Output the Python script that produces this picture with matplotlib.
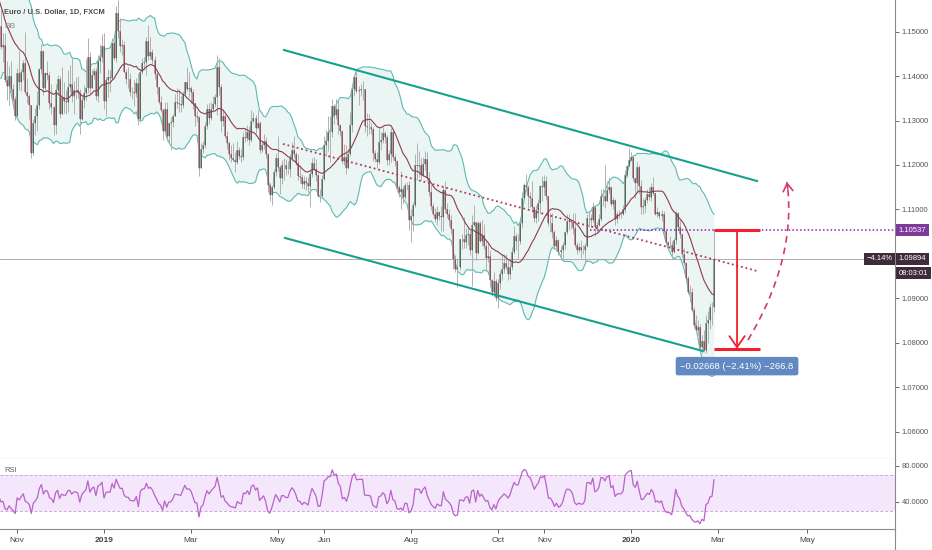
import numpy as np
import pandas as pd
import matplotlib
matplotlib.use('Agg')
import matplotlib.pyplot as plt
from matplotlib.transforms import blended_transform_factory
from matplotlib.lines import Line2D

plt.rcParams['font.family'] = ['Liberation Sans', 'DejaVu Sans']

# EUR/USD daily, FXCM. first 20 bars (from 2018-09-24) only warm up BB / RSI,
# the visible chart starts on 2018-10-22 (bar 0)
first_day = '2018-09-24'
n_pre = 20
bb_length = 20
rsi_length = 10

closes = [
    1.1748, 1.1768, 1.1738, 1.1641, 1.1604,
    1.1575, 1.1547, 1.1485, 1.1516, 1.1524,
    1.1490, 1.1489, 1.1527, 1.1595, 1.1561,
    1.1579, 1.1575, 1.1500, 1.1451, 1.1512,
    1.1466, 1.1470, 1.1392, 1.1377, 1.1400,
    1.1370, 1.1348, 1.1311, 1.1406, 1.1386,
    1.1408, 1.1430, 1.1365, 1.1355, 1.1335,
    1.1226, 1.1294, 1.1310, 1.1335, 1.1415,
    1.1456, 1.1372, 1.1406, 1.1402, 1.1339,
    1.1330, 1.1290, 1.1368, 1.1393, 1.1315,
    1.1352, 1.1343, 1.1342, 1.1375, 1.1381,
    1.1354, 1.1368, 1.1369, 1.1362, 1.1303,
    1.1346, 1.1361, 1.1374, 1.1442, 1.1372,
    1.1402, 1.1412, 1.1354, 1.1433, 1.1443,
    1.1467, 1.1344, 1.1392, 1.1397, 1.1395,
    1.1474, 1.1440, 1.1542, 1.1502, 1.1468,
    1.1470, 1.1410, 1.1393, 1.1393, 1.1365,
    1.1363, 1.1362, 1.1385, 1.1304, 1.1409,
    1.1429, 1.1431, 1.1479, 1.1446, 1.1455,
    1.1437, 1.1405, 1.1376, 1.1341, 1.1324,
    1.1276, 1.1326, 1.1265, 1.1295, 1.1297,
    1.1311, 1.1342, 1.1340, 1.1337, 1.1335,
    1.1359, 1.1387, 1.1370, 1.1372, 1.1364,
    1.1340, 1.1309, 1.1307, 1.1193, 1.1236,
    1.1246, 1.1287, 1.1325, 1.1305, 1.1325,
    1.1338, 1.1352, 1.1420, 1.1375, 1.1300,
    1.1310, 1.1265, 1.1250, 1.1225, 1.1216,
    1.1212, 1.1206, 1.1233, 1.1221, 1.1217,
    1.1264, 1.1260, 1.1274, 1.1257, 1.1298,
    1.1305, 1.1284, 1.1295, 1.1234, 1.1244,
    1.1254, 1.1225, 1.1155, 1.1132, 1.1151,
    1.1184, 1.1216, 1.1195, 1.1170, 1.1201,
    1.1200, 1.1190, 1.1190, 1.1215, 1.1233,
    1.1224, 1.1205, 1.1175, 1.1174, 1.1157,
    1.1164, 1.1160, 1.1152, 1.1180, 1.1205,
    1.1192, 1.1177, 1.1130, 1.1131, 1.1169,
    1.1245, 1.1255, 1.1274, 1.1274, 1.1333,
    1.1312, 1.1326, 1.1290, 1.1276, 1.1210,
    1.1217, 1.1193, 1.1224, 1.1290, 1.1370,
    1.1398, 1.1366, 1.1369, 1.1370, 1.1370,
    1.1288, 1.1285, 1.1285, 1.1281, 1.1226,
    1.1213, 1.1206, 1.1252, 1.1256, 1.1271,
    1.1262, 1.1212, 1.1224, 1.1274, 1.1219,
    1.1209, 1.1150, 1.1140, 1.1146, 1.1127,
    1.1156, 1.1154, 1.1076, 1.1085, 1.1109,
    1.1201, 1.1198, 1.1200, 1.1177, 1.1202,
    1.1214, 1.1171, 1.1139, 1.1108, 1.1090,
    1.1078, 1.1095, 1.1085, 1.1084, 1.1143,
    1.1101, 1.1090, 1.1077, 1.1056, 1.0988,
    1.0967, 1.0970, 1.1033, 1.1034, 1.1026,
    1.1043, 1.1045, 1.1010, 1.1066, 1.1073,
    1.1002, 1.1070, 1.1029, 1.1043, 1.1017,
    1.0991, 1.0995, 1.0941, 1.0914, 1.0940,
    1.0900, 1.0935, 1.0955, 1.0966, 1.0980,
    1.0971, 1.0956, 1.0971, 1.1005, 1.1041,
    1.1030, 1.1030, 1.1069, 1.1125, 1.1155,
    1.1150, 1.1130, 1.1125, 1.1105, 1.1080,
    1.1099, 1.1114, 1.1153, 1.1151, 1.1165,
    1.1130, 1.1069, 1.1069, 1.1050, 1.1019,
    1.1031, 1.1005, 1.1009, 1.1021, 1.1050,
    1.1075, 1.1075, 1.1071, 1.1058, 1.1020,
    1.1010, 1.1015, 1.1010, 1.1010, 1.1017,
    1.1080, 1.1082, 1.1077, 1.1105, 1.1060,
    1.1065, 1.1079, 1.1130, 1.1130, 1.1120,
    1.1144, 1.1151, 1.1113, 1.1122, 1.1079,
    1.1089, 1.1090, 1.1090, 1.1100, 1.1178,
    1.1198, 1.1212, 1.1217, 1.1170, 1.1160,
    1.1195, 1.1153, 1.1105, 1.1107, 1.1121,
    1.1134, 1.1128, 1.1150, 1.1136, 1.1090,
    1.1095, 1.1085, 1.1091, 1.1052, 1.1026,
    1.1021, 1.1020, 1.1005, 1.1032, 1.1093,
    1.1061, 1.1046, 1.1000, 1.0980, 1.0945,
    1.0914, 1.0915, 1.0875, 1.0841, 1.0830,
    1.0835, 1.0791, 1.0805, 1.0785, 1.0845,
    1.0851, 1.0880, 1.0882, 1.0989,
]

highs = [
    1.1815, 1.1781, 1.1795, 1.1738, 1.1654,
    1.1608, 1.1580, 1.1577, 1.1547, 1.1538,
    1.1521, 1.1502, 1.1538, 1.1605, 1.1620,
    1.1592, 1.1621, 1.1579, 1.1511, 1.1523,
    1.1550, 1.1497, 1.1497, 1.1434, 1.1422,
    1.1434, 1.1381, 1.1355, 1.1419, 1.1456,
    1.1415, 1.1436, 1.1500, 1.1395, 1.1359,
    1.1335, 1.1304, 1.1327, 1.1367, 1.1418,
    1.1472, 1.1458, 1.1409, 1.1433, 1.1408,
    1.1382, 1.1333, 1.1382, 1.1402, 1.1399,
    1.1420, 1.1387, 1.1369, 1.1413, 1.1424,
    1.1442, 1.1389, 1.1398, 1.1400, 1.1370,
    1.1355, 1.1380, 1.1439, 1.1485, 1.1455,
    1.1415, 1.1418, 1.1419, 1.1448, 1.1472,
    1.1495, 1.1497, 1.1398, 1.1415, 1.1413,
    1.1486, 1.1480, 1.1558, 1.1570, 1.1530,
    1.1483, 1.1478, 1.1416, 1.1420, 1.1406,
    1.1375, 1.1391, 1.1396, 1.1407, 1.1416,
    1.1440, 1.1442, 1.1487, 1.1514, 1.1488,
    1.1461, 1.1445, 1.1409, 1.1375, 1.1355,
    1.1327, 1.1342, 1.1341, 1.1292, 1.1307,
    1.1315, 1.1359, 1.1372, 1.1370, 1.1355,
    1.1366, 1.1385, 1.1420, 1.1408, 1.1378,
    1.1370, 1.1340, 1.1321, 1.1310, 1.1249,
    1.1254, 1.1296, 1.1338, 1.1340, 1.1342,
    1.1356, 1.1360, 1.1448, 1.1440, 1.1383,
    1.1325, 1.1314, 1.1277, 1.1255, 1.1245,
    1.1250, 1.1230, 1.1255, 1.1240, 1.1235,
    1.1274, 1.1284, 1.1289, 1.1288, 1.1324,
    1.1318, 1.1312, 1.1324, 1.1298, 1.1251,
    1.1270, 1.1263, 1.1227, 1.1160, 1.1155,
    1.1190, 1.1228, 1.1265, 1.1200, 1.1211,
    1.1215, 1.1213, 1.1210, 1.1225, 1.1251,
    1.1265, 1.1230, 1.1225, 1.1200, 1.1180,
    1.1175, 1.1172, 1.1174, 1.1188, 1.1215,
    1.1218, 1.1214, 1.1181, 1.1145, 1.1178,
    1.1265, 1.1279, 1.1309, 1.1309, 1.1348,
    1.1338, 1.1348, 1.1349, 1.1293, 1.1278,
    1.1247, 1.1244, 1.1239, 1.1318, 1.1377,
    1.1405, 1.1412, 1.1378, 1.1382, 1.1388,
    1.1370, 1.1316, 1.1315, 1.1295, 1.1285,
    1.1233, 1.1230, 1.1286, 1.1274, 1.1286,
    1.1276, 1.1268, 1.1233, 1.1283, 1.1281,
    1.1225, 1.1211, 1.1155, 1.1187, 1.1152,
    1.1159, 1.1162, 1.1163, 1.1100, 1.1117,
    1.1224, 1.1250, 1.1232, 1.1215, 1.1218,
    1.1231, 1.1230, 1.1185, 1.1155, 1.1114,
    1.1103, 1.1108, 1.1097, 1.1107, 1.1153,
    1.1164, 1.1114, 1.1100, 1.1087, 1.1059,
    1.0998, 1.0988, 1.1034, 1.1045, 1.1084,
    1.1058, 1.1064, 1.1055, 1.1087, 1.1109,
    1.1056, 1.1075, 1.1074, 1.1076, 1.1068,
    1.1030, 1.1025, 1.1008, 1.0943, 1.0960,
    1.0944, 1.0943, 1.0963, 1.0999, 1.0999,
    1.0999, 1.0989, 1.0992, 1.1016, 1.1062,
    1.1047, 1.1045, 1.1074, 1.1140, 1.1160,
    1.1179, 1.1156, 1.1140, 1.1163, 1.1107,
    1.1110, 1.1124, 1.1155, 1.1175, 1.1177,
    1.1176, 1.1128, 1.1092, 1.1093, 1.1055,
    1.1041, 1.1033, 1.1018, 1.1028, 1.1052,
    1.1090, 1.1089, 1.1079, 1.1092, 1.1093,
    1.1028, 1.1024, 1.1031, 1.1020, 1.1025,
    1.1089, 1.1097, 1.1089, 1.1117, 1.1111,
    1.1073, 1.1090, 1.1145, 1.1147, 1.1199,
    1.1163, 1.1174, 1.1151, 1.1129, 1.1124,
    1.1097, 1.1098, 1.1095, 1.1110, 1.1188,
    1.1200, 1.1239, 1.1229, 1.1220, 1.1169,
    1.1206, 1.1200, 1.1166, 1.1126, 1.1129,
    1.1146, 1.1150, 1.1159, 1.1172, 1.1138,
    1.1105, 1.1096, 1.1098, 1.1096, 1.1050,
    1.1029, 1.1040, 1.1029, 1.1036, 1.1096,
    1.1095, 1.1076, 1.1042, 1.1013, 1.0981,
    1.0951, 1.0930, 1.0923, 1.0882, 1.0863,
    1.0851, 1.0842, 1.0817, 1.0829, 1.0862,
    1.0872, 1.0889, 1.0891, 1.1054,
]

lows = [
    1.1733, 1.1723, 1.1718, 1.1628, 1.1586,
    1.1555, 1.1524, 1.1462, 1.1474, 1.1482,
    1.1460, 1.1433, 1.1475, 1.1525, 1.1560,
    1.1564, 1.1543, 1.1496, 1.1433, 1.1445,
    1.1460, 1.1431, 1.1387, 1.1345, 1.1335,
    1.1361, 1.1336, 1.1302, 1.1312, 1.1369,
    1.1366, 1.1392, 1.1360, 1.1340, 1.1304,
    1.1216, 1.1223, 1.1267, 1.1277, 1.1325,
    1.1404, 1.1358, 1.1367, 1.1390, 1.1326,
    1.1315, 1.1267, 1.1269, 1.1357, 1.1306,
    1.1317, 1.1317, 1.1315, 1.1320, 1.1363,
    1.1342, 1.1315, 1.1349, 1.1350, 1.1269,
    1.1302, 1.1329, 1.1347, 1.1361, 1.1360,
    1.1381, 1.1394, 1.1346, 1.1342, 1.1407,
    1.1432, 1.1325, 1.1311, 1.1353, 1.1365,
    1.1390, 1.1436, 1.1431, 1.1485, 1.1455,
    1.1447, 1.1409, 1.1382, 1.1372, 1.1355,
    1.1349, 1.1333, 1.1352, 1.1289, 1.1297,
    1.1405, 1.1413, 1.1402, 1.1437, 1.1439,
    1.1426, 1.1394, 1.1360, 1.1337, 1.1318,
    1.1257, 1.1273, 1.1255, 1.1249, 1.1234,
    1.1286, 1.1311, 1.1328, 1.1320, 1.1318,
    1.1329, 1.1357, 1.1367, 1.1352, 1.1339,
    1.1325, 1.1287, 1.1297, 1.1176, 1.1196,
    1.1227, 1.1238, 1.1280, 1.1293, 1.1301,
    1.1319, 1.1330, 1.1313, 1.1358, 1.1274,
    1.1288, 1.1261, 1.1235, 1.1212, 1.1206,
    1.1208, 1.1184, 1.1202, 1.1214, 1.1206,
    1.1211, 1.1252, 1.1255, 1.1245, 1.1252,
    1.1295, 1.1271, 1.1285, 1.1226, 1.1230,
    1.1237, 1.1215, 1.1139, 1.1119, 1.1110,
    1.1147, 1.1176, 1.1187, 1.1134, 1.1157,
    1.1166, 1.1177, 1.1179, 1.1172, 1.1210,
    1.1215, 1.1200, 1.1167, 1.1159, 1.1149,
    1.1147, 1.1143, 1.1140, 1.1105, 1.1173,
    1.1189, 1.1164, 1.1127, 1.1116, 1.1129,
    1.1167, 1.1220, 1.1231, 1.1207, 1.1263,
    1.1292, 1.1303, 1.1269, 1.1265, 1.1202,
    1.1201, 1.1180, 1.1195, 1.1220, 1.1274,
    1.1356, 1.1361, 1.1335, 1.1354, 1.1347,
    1.1275, 1.1266, 1.1270, 1.1270, 1.1208,
    1.1206, 1.1194, 1.1202, 1.1233, 1.1249,
    1.1250, 1.1200, 1.1200, 1.1207, 1.1212,
    1.1198, 1.1141, 1.1127, 1.1102, 1.1113,
    1.1124, 1.1143, 1.1054, 1.1027, 1.1052,
    1.1106, 1.1167, 1.1173, 1.1166, 1.1176,
    1.1189, 1.1164, 1.1130, 1.1099, 1.1086,
    1.1073, 1.1065, 1.1076, 1.1051, 1.1052,
    1.1093, 1.1081, 1.1062, 1.1046, 1.0966,
    1.0960, 1.0926, 1.0964, 1.1011, 1.1013,
    1.1013, 1.1020, 1.0997, 1.0927, 1.1063,
    1.0987, 1.1000, 1.1026, 1.1018, 1.1012,
    1.0965, 1.0982, 1.0926, 1.0905, 1.0904,
    1.0895, 1.0879, 1.0921, 1.0941, 1.0958,
    1.0967, 1.0942, 1.0944, 1.0965, 1.1001,
    1.1010, 1.0991, 1.1023, 1.1058, 1.1122,
    1.1139, 1.1103, 1.1106, 1.1094, 1.1072,
    1.1070, 1.1075, 1.1090, 1.1120, 1.1133,
    1.1122, 1.1064, 1.1049, 1.1036, 1.1014,
    1.1007, 1.0998, 1.0990, 1.0989, 1.1012,
    1.1045, 1.1055, 1.1056, 1.1046, 1.1015,
    1.1000, 1.1005, 1.0992, 1.1001, 1.0981,
    1.1015, 1.1060, 1.1064, 1.1073, 1.1040,
    1.1050, 1.1062, 1.1074, 1.1108, 1.1103,
    1.1123, 1.1134, 1.1108, 1.1102, 1.1066,
    1.1070, 1.1080, 1.1082, 1.1087, 1.1092,
    1.1173, 1.1197, 1.1209, 1.1163, 1.1126,
    1.1138, 1.1135, 1.1089, 1.1091, 1.1092,
    1.1115, 1.1122, 1.1118, 1.1132, 1.1088,
    1.1083, 1.1079, 1.1074, 1.1036, 1.1021,
    1.1009, 1.1013, 1.0992, 1.1005, 1.1022,
    1.1055, 1.1036, 1.0994, 1.0976, 1.0941,
    1.0910, 1.0892, 1.0871, 1.0834, 1.0827,
    1.0817, 1.0785, 1.0778, 1.0779, 1.0777,
    1.0800, 1.0831, 1.0840, 1.0869,
]

# time axis labels
tick_dates = ['2018-11-01', '2019-01-01', '2019-03-01', '2019-05-01', '2019-06-03',
              '2019-08-01', '2019-10-01', '2019-11-01', '2020-01-01', '2020-03-02',
              '2020-05-01']
tick_labels = ['Nov', '2019', 'Mar', 'May', 'Jun', 'Aug', 'Oct', 'Nov', '2020', 'Mar', 'May']
# 1.10000 sits under the last-price box, so it gets no label
price_ticks = [1.06, 1.07, 1.08, 1.09, 1.10, 1.11, 1.12, 1.13, 1.14, 1.15]
hidden_price_labels = [1.10]
rsi_ticks = [80, 40]

# drawings on the chart: (bar number from 2018-10-22, price)
channel_top = [(140.1, 1.14584), (374.3, 1.11640)]
channel_bottom = [(140.6, 1.10360), (347.5, 1.07820)]
trend_dotted = [(139.6, 1.12472), (374.3, 1.09618)]
level_price = 1.10537
level_start = 291.6
measure_x = [353.0, 364.4, 375.7]   # left, arrow, right
measure_top = 1.10537
measure_bottom = 1.07869
measure_label_y = 1.0748
measure_text = '\u22120.02668 (\u22122.41%) \u2212266.8'
forecast = [(369.8, 1.08067), (383.2, 1.09079), (393.1, 1.10315), (389.1, 1.11618)]
last_price = 1.09894
last_change = '\u22124.14%'
countdown = '08:03:01'

assert len(closes) == len(highs) == len(lows)

# ---------------------------------------------------------------- data prep
c = np.array(closes)
o = np.r_[c[0], c[:-1]]
h = np.maximum(np.array(highs), np.maximum(o, c))
l = np.minimum(np.array(lows), np.minimum(o, c))
x = np.arange(len(c)) - n_pre

s = pd.Series(c)
mid = s.rolling(bb_length).mean()
sd = s.rolling(bb_length).std(ddof=0)
bb_up = mid + 2 * sd
bb_lo = mid - 2 * sd

delta = s.diff()
avg_gain = delta.clip(lower=0).ewm(alpha=1 / rsi_length, adjust=False).mean()
avg_loss = (-delta.clip(upper=0)).ewm(alpha=1 / rsi_length, adjust=False).mean()
rsi = 100 - 100 / (1 + avg_gain / avg_loss)

all_days = pd.bdate_range(first_day, '2020-06-30')
tick_pos = [all_days.get_loc(pd.Timestamp(d)) - n_pre for d in tick_dates]

# ---------------------------------------------------------------- figure
W, H = 932, 550
fig = plt.figure(figsize=(W / 100, H / 100), dpi=100)
ax = fig.add_axes([0, 1 - 459 / H, 895 / W, 459 / H])
axr = fig.add_axes([0, 1 - 529 / H, 895 / W, 70 / H], sharex=ax)

xlim = (-0.495, 442.6)
ax.set_xlim(*xlim)
ax.set_ylim(1.05393, 1.15708)

# bollinger bands
ax.fill_between(x, bb_lo, bb_up, color='#ebf6f4', lw=0, zorder=1)
ax.plot(x, bb_up, color='#5dbab2', lw=0.8, zorder=2)
ax.plot(x, bb_lo, color='#5dbab2', lw=0.8, zorder=2)

# candles
up = c >= o
ax.vlines(x, l, h, color='#b0b0b0', lw=0.7, zorder=3)
ax.vlines(x, np.minimum(o, c), np.maximum(o, c), color='#989898', lw=1.25, zorder=3)
ax.vlines(x[up], o[up], c[up], color='#2f5d3a', lw=0.5, zorder=4)
ax.vlines(x[~up], c[~up], o[~up], color='#9b2c3f', lw=0.5, zorder=4)

ax.plot(x, mid, color='#8f3b4e', lw=0.8, zorder=5)

# drawings
ax.axhline(last_price, color='#a99ba4', lw=0.6, zorder=2)
ax.plot(*zip(*channel_top), color='#16a08f', lw=1.5, zorder=6)
ax.plot(*zip(*channel_bottom), color='#16a08f', lw=1.5, zorder=6)
ax.plot(*zip(*trend_dotted), color='#b03a58', lw=1.3, ls=(0, (1, 1.6)), zorder=6)
ax.hlines(level_price, level_start, xlim[1], colors='#8e24aa', lw=1.1,
          linestyles=(0, (1, 1.5)), zorder=6)

red = '#f2202e'
ax.hlines([measure_top, measure_bottom], measure_x[0], measure_x[2], colors=red, lw=2.2, zorder=7)
ax.annotate('', xy=(measure_x[1], measure_bottom), xytext=(measure_x[1], measure_top),
            arrowprops=dict(arrowstyle='->,head_length=0.8,head_width=0.55', color=red,
                            lw=1.3, shrinkA=0, shrinkB=0), zorder=7)
ax.text(measure_x[1], measure_label_y, measure_text, ha='center', va='center',
        fontsize=6.8, color='white', zorder=8,
        bbox=dict(boxstyle='round,pad=0.5,rounding_size=0.25', fc='#6289c1', ec='none'))

# dashed forecast curve (cubic bezier through the drawn anchors)
p = np.array(forecast)
t = np.linspace(0, 1, 80)[:, None]
curve = ((1 - t) ** 3 * p[0] + 3 * (1 - t) ** 2 * t * p[1]
         + 3 * (1 - t) * t ** 2 * p[2] + t ** 3 * p[3])
pink = '#d23a6b'
ax.plot(curve[:, 0], curve[:, 1], color=pink, lw=1.2, ls=(0, (4, 3)), zorder=7)
ax.annotate('', xy=curve[-1], xytext=curve[-4],
            arrowprops=dict(arrowstyle='->,head_length=0.55,head_width=0.35', color=pink,
                            lw=1.2, shrinkA=0, shrinkB=0), zorder=7)

# price axis
ax.yaxis.tick_right()
ax.set_yticks(price_ticks)
ax.set_yticklabels(['' if v in hidden_price_labels else f'{v:.5f}' for v in price_ticks])
ax.tick_params(axis='y', labelsize=5.5, colors='#555555', length=3, width=0.6, pad=2)
ax.tick_params(axis='x', bottom=False, labelbottom=False)
for side in ['top', 'left']:
    ax.spines[side].set_visible(False)
for side in ['right', 'bottom']:
    ax.spines[side].set_color('#8a8a8a')
    ax.spines[side].set_linewidth(0.8)

tr = blended_transform_factory(ax.transAxes, ax.transData)
box_kw = dict(fontsize=5.5, color='white', va='center', clip_on=False, zorder=9)
ax.text(1.004, level_price, f'{level_price:.5f}', transform=tr, ha='left',
        bbox=dict(boxstyle='square,pad=0.35', fc='#7d3a9b', ec='none'), **box_kw)
ax.text(1.004, last_price, f'{last_price:.5f}', transform=tr, ha='left',
        bbox=dict(boxstyle='square,pad=0.35', fc='#3f2c3a', ec='none'), **box_kw)
ax.text(0.997, last_price, last_change, transform=tr, ha='right',
        bbox=dict(boxstyle='square,pad=0.35', fc='#3f2c3a', ec='none'), **box_kw)
ax.annotate(countdown, xy=(1.004, last_price), xycoords=tr, xytext=(0, -10.5),
            textcoords='offset points', ha='left',
            bbox=dict(boxstyle='square,pad=0.35', fc='#3f2c3a', ec='none'), **box_kw)

fig.text(4 / W, 1 - 12 / H, 'Euro / U.S. Dollar, 1D, FXCM', fontsize=5.4, color='#4a4a4a',
         va='center', fontweight='bold')
fig.text(4 / W, 1 - 26 / H, 'BB', fontsize=6, color='#8a8a8a', va='center')

# RSI pane
axr.set_ylim(10.17, 87.3)
axr.axhspan(30, 70, color='#f4e7fb', lw=0, zorder=1)
axr.axhline(70, color='#cfa6dc', lw=0.7, ls=(0, (3, 2)), zorder=2)
axr.axhline(30, color='#cfa6dc', lw=0.7, ls=(0, (3, 2)), zorder=2)
axr.plot(x, rsi, color='#b862c9', lw=0.9, zorder=3)
axr.yaxis.tick_right()
axr.set_yticks(rsi_ticks)
axr.set_yticklabels([f'{v:.4f}' for v in rsi_ticks])
axr.tick_params(axis='y', labelsize=5.5, colors='#555555', length=3, width=0.6, pad=2)
axr.set_xticks(tick_pos)
axr.set_xticklabels(tick_labels)
axr.tick_params(axis='x', labelsize=6, colors='#444444', length=3, width=0.6, pad=3)
for lab in axr.get_xticklabels():
    if lab.get_text() in ('2019', '2020'):
        lab.set_fontweight('bold')
for side in ['top', 'left']:
    axr.spines[side].set_visible(False)
for side in ['right', 'bottom']:
    axr.spines[side].set_color('#8a8a8a')
    axr.spines[side].set_linewidth(0.8)
axr.text(4 / 895, 1 - 11 / 70, 'RSI', transform=axr.transAxes, fontsize=5.5,
         color='#666666', va='center')

fig.add_artist(Line2D([895 / W, 895 / W], [0, 1 - 529 / H], transform=fig.transFigure,
                      color='#8a8a8a', lw=0.8))

fig.savefig('out.png', dpi=100)
